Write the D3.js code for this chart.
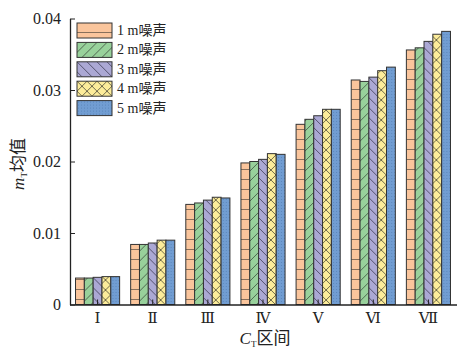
<!DOCTYPE html>
<html>
<head>
<meta charset="utf-8">
<script src="https://cdn.jsdelivr.net/npm/d3@7"></script>
<style>
  body { margin: 0; background: #fff; }
  svg text { font-family: "Liberation Serif", "Noto Sans CJK SC", serif; fill: #222; }
</style>
</head>
<body>
<div id="chart"></div>
<script>
const categories = ["Ⅰ", "Ⅱ", "Ⅲ", "Ⅳ", "Ⅴ", "Ⅵ", "Ⅶ"];
const seriesNames = ["1 m噪声", "2 m噪声", "3 m噪声", "4 m噪声", "5 m噪声"];
const noise1 = [0.0037, 0.0084, 0.0140, 0.0198, 0.0252, 0.0314, 0.0356];
const noise2 = [0.0037, 0.0084, 0.0142, 0.0200, 0.0259, 0.0312, 0.0359];
const noise3 = [0.0038, 0.0086, 0.0146, 0.0203, 0.0264, 0.0318, 0.0368];
const noise4 = [0.0039, 0.0090, 0.0150, 0.0211, 0.0273, 0.0327, 0.0378];
const noise5 = [0.0039, 0.0090, 0.0149, 0.0210, 0.0273, 0.0332, 0.0382];
const yTicks = [0, 0.01, 0.02, 0.03, 0.04];
const yTickLabels = ["0", "0.01", "0.02", "0.03", "0.04"];

const series = [noise1, noise2, noise3, noise4, noise5];
const colors = ["#FAC59C", "#98D19B", "#ABA8D4", "#FCEC9A", "#719DD2"];

const width = 459;
const height = 350;
const margin = { left: 70, right: 3, top: 18.5, bottom: 45.5 };

const svg = d3.select("#chart")
    .append("svg")
    .attr("width", width)
    .attr("height", height);

// hatch patterns, one per series
const defs = svg.append("defs");
const pat = (id, w, h) => defs.append("pattern")
    .attr("id", id)
    .attr("patternUnits", "userSpaceOnUse")
    .attr("width", w)
    .attr("height", h);

let p = pat("p0", 10, 10);
p.append("rect").attr("width", 10).attr("height", 10).attr("fill", colors[0]);
p.append("line").attr("x1", 0).attr("x2", 10).attr("y1", 9.5).attr("y2", 9.5)
    .attr("stroke", "#6b5a4a").attr("stroke-width", 0.8);

p = pat("p1", 10, 10);
p.append("rect").attr("width", 10).attr("height", 10).attr("fill", colors[1]);
p.append("path").attr("d", "M-1,11 L11,-1").attr("stroke", "#3e4a3e").attr("stroke-width", 0.8);

p = pat("p2", 10, 10);
p.append("rect").attr("width", 10).attr("height", 10).attr("fill", colors[2]);
p.append("path").attr("d", "M-1,-1 L11,11").attr("stroke", "#3f3d55").attr("stroke-width", 0.8);

p = pat("p3", 10, 10);
p.append("rect").attr("width", 10).attr("height", 10).attr("fill", colors[3]);
p.append("path").attr("d", "M-1,-1 L11,11 M-1,11 L11,-1").attr("stroke", "#4d4a38").attr("stroke-width", 0.8);

p = pat("p4", 3, 3);
p.append("rect").attr("width", 3).attr("height", 3).attr("fill", colors[4]);
p.append("rect").attr("x", 1).attr("y", 1).attr("width", 1).attr("height", 1).attr("fill", "#5c87bb");

const x = d3.scaleBand()
    .domain(categories)
    .range([margin.left, width - margin.right])
    .paddingInner(0.2)
    .paddingOuter(0.1);

const xSub = d3.scaleBand()
    .domain(d3.range(series.length))
    .range([0, x.bandwidth()]);

const y = d3.scaleLinear()
    .domain([0, 0.04])
    .range([height - margin.bottom, margin.top]);

// bars
categories.forEach((c, i) => {
    const g = svg.append("g").attr("transform", `translate(${x(c)},0)`);
    g.selectAll("rect")
        .data(series.map((s, k) => ({ k: k, v: s[i] })))
        .enter().append("rect")
        .attr("x", d => xSub(d.k))
        .attr("width", xSub.bandwidth())
        .attr("y", d => y(d.v))
        .attr("height", d => y(0) - y(d.v))
        .attr("fill", d => `url(#p${d.k})`)
        .attr("stroke", "#333")
        .attr("stroke-width", 1);
});

// y axis
const yAxis = svg.append("g")
    .attr("transform", `translate(${margin.left},0)`)
    .call(d3.axisLeft(y).tickValues(yTicks).tickFormat((d, i) => yTickLabels[i]).tickSizeInner(-5).tickSizeOuter(0).tickPadding(9));
yAxis.select(".domain").attr("stroke", "#222").attr("stroke-width", 1.3);
yAxis.selectAll(".tick line").attr("stroke", "#222");
yAxis.selectAll("text").style("font-size", "16px");

// x axis
const xAxis = svg.append("g")
    .attr("transform", `translate(0,${y(0)})`)
    .call(d3.axisBottom(x).tickSizeInner(-5).tickSizeOuter(0).tickPadding(8));
xAxis.select(".domain").attr("stroke", "#222").attr("stroke-width", 1.3)
    .attr("d", `M${margin.left},0.5H${width - 2}`);
xAxis.selectAll(".tick line").attr("stroke", "#222");
xAxis.selectAll("text")
    .style("font-family", "'DejaVu Serif', 'Liberation Serif', serif")
    .style("font-size", "15px");

// axis titles
const xt = svg.append("text")
    .attr("x", 265)
    .attr("y", 344)
    .attr("text-anchor", "middle")
    .style("font-size", "17px");
xt.append("tspan").style("font-style", "italic").text("C");
xt.append("tspan").attr("dy", 3).style("font-size", "9px").text("T");
xt.append("tspan").attr("dy", -3).text("区间");

const yt = svg.append("text")
    .attr("transform", "translate(24,164) rotate(-90)")
    .attr("text-anchor", "middle")
    .style("font-size", "17px");
yt.append("tspan").style("font-style", "italic").text("m");
yt.append("tspan").attr("dy", 3).style("font-size", "9px").text("T");
yt.append("tspan").attr("dy", -3).text("均值");

// legend
const legend = svg.append("g").attr("transform", "translate(77,23)");
seriesNames.forEach((n, k) => {
    const row = legend.append("g").attr("transform", `translate(0,${k * 19.4})`);
    row.append("rect")
        .attr("width", 35)
        .attr("height", 15)
        .attr("fill", `url(#p${k})`)
        .attr("stroke", "#333")
        .attr("stroke-width", 1);
    row.append("text")
        .attr("x", 40)
        .attr("y", 12)
        .style("font-size", "14px")
        .text(n);
});
</script>
</body>
</html>
